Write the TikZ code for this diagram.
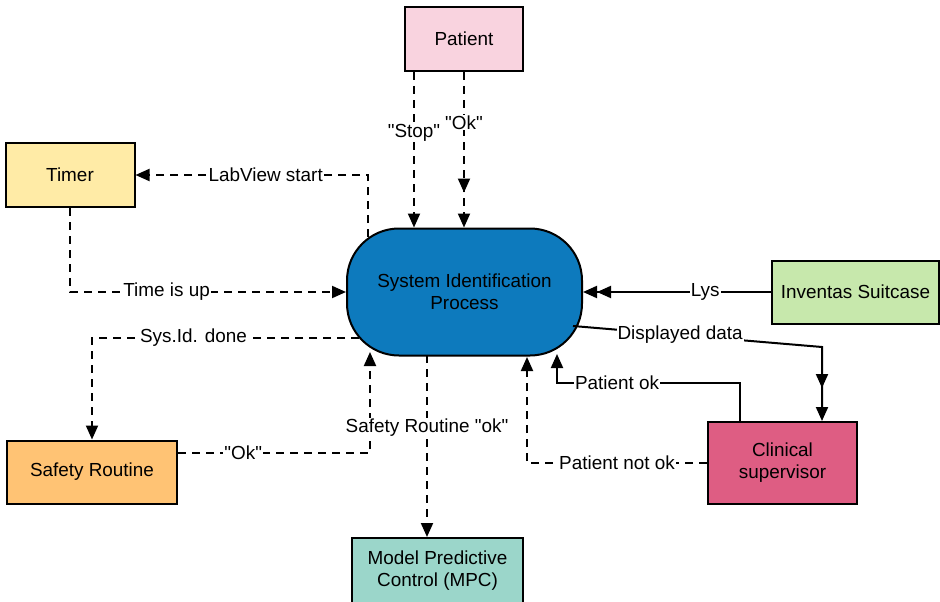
\documentclass[tikz,border=0pt]{standalone}
\usepackage{fontspec}
\setmainfont{Liberation Sans}[Ligatures=TeXOff]
\usetikzlibrary{arrows.meta,calc,decorations.markings}
\definecolor{cpatient}{HTML}{F9D3DF}
\definecolor{ctimer}{HTML}{FFEBA6}
\definecolor{cinv}{HTML}{C7E8AC}
\definecolor{cclin}{HTML}{DE5D83}
\definecolor{csafe}{HTML}{FFC374}
\definecolor{cmpc}{HTML}{9BD6CA}
\definecolor{cproc}{HTML}{0D7ABD}
\newcommand\dfont{\fontsize{18.9}{22}\selectfont}
\begin{document}
\begin{tikzpicture}[x=1pt,y=-1pt,
  box/.style={draw=black, line width=2pt, align=center, inner sep=0pt, font=\dfont},
  lbl/.style={fill=white, inner sep=1pt, font=\dfont},
  dl/.style={line width=2pt, dash pattern=on 8pt off 6pt},
  sl/.style={line width=2pt},
  arr/.style={-{Triangle[length=14pt,width=12pt]}},
  arrtwo/.style={-{Triangle[length=14pt,width=12pt]Triangle[length=14pt,width=12pt]}},
  midtip/.style={postaction={decorate,decoration={markings,mark=at position #1 with {\arrow{Triangle[length=14pt,width=12pt]}}}}}
]
\useasboundingbox (0,0) rectangle (940,602);

% nodes
\node[box, fill=cpatient, minimum width=118pt, minimum height=64pt] (patient) at (464,39) {Patient};
\node[box, fill=ctimer, minimum width=129pt, minimum height=64pt] (timer) at (70,175) {Timer};
\node[box, fill=cinv, minimum width=167pt, minimum height=63pt] (inv) at (855.5,292) {Inventas Suitcase};
\node[box, fill=cclin, minimum width=149pt, minimum height=82pt] (clin) at (782.5,463) {Clinical\\supervisor};
\node[box, fill=csafe, minimum width=170pt, minimum height=63pt] (safe) at (92,472) {Safety Routine};
\node[box, fill=cmpc, minimum width=171pt, minimum height=66pt] (mpc) at (437.5,571) {Model Predictive\\Control (MPC)};
\node[box, fill=cproc, rounded corners=52pt, minimum width=235pt, minimum height=127pt] (proc) at (464.5,292) {System Identification\\Process};

% helper coordinates on the process border
\coordinate (stopA) at ($(patient.south)+(-50,0)$);
\coordinate (lvs) at (368,237);
\coordinate (dd) at (573,326);
\coordinate (ddk) at (822,347);
\coordinate (pokA) at ($(clin.north)+(-42.5,0)$);
\coordinate (pokend) at (557,354);
\coordinate (pnokend) at (527,357);
\coordinate (sid) at (359,338);
\coordinate (okA) at ($(safe.east)+(0,-19)$);
\coordinate (okend) at (370,352);
\coordinate (sro) at (427,355);

% connectors
\draw[dl,arr] (stopA) -- node[lbl,pos=0.39] {"Stop"} (stopA |- proc.north);
\draw[dl,arr,midtip=-35pt] (patient.south) -- node[lbl,pos=0.325] {"Ok"} (patient.south |- proc.north);
\draw[dl,arr] (lvs) |- node[lbl,pos=0.72] {LabView start} (timer.east);
\draw[dl,arr] (timer.south) |- node[lbl,pos=0.675] {Time is up} (proc.west);
\draw[sl,arrtwo] (inv.west) -- node[lbl,pos=0.35] {Lys} (proc.east);
\draw[sl,arr,midtip=-33pt] (dd) -- node[lbl,pos=0.43] {Displayed data} (ddk) -- (ddk |- clin.north);
\draw[sl,arr] (pokA) -- ++(0,-38) -| node[lbl,pos=0.336] {Patient ok} (pokend);
\draw[dl,arr] (clin.west) -| node[lbl,pos=0.25] {Patient not ok} (pnokend);
\draw[dl,arr] (sid) -| node[lbl,pos=0.31] {Sys.Id. done} (safe.north);
\draw[dl,arr] (okA) -| node[lbl,pos=0.17] {"Ok"} (okend);
\draw[dl,arr] (sro) -- node[lbl,pos=0.4] {Safety Routine "ok"} (sro |- mpc.north);
\end{tikzpicture}
\end{document}
